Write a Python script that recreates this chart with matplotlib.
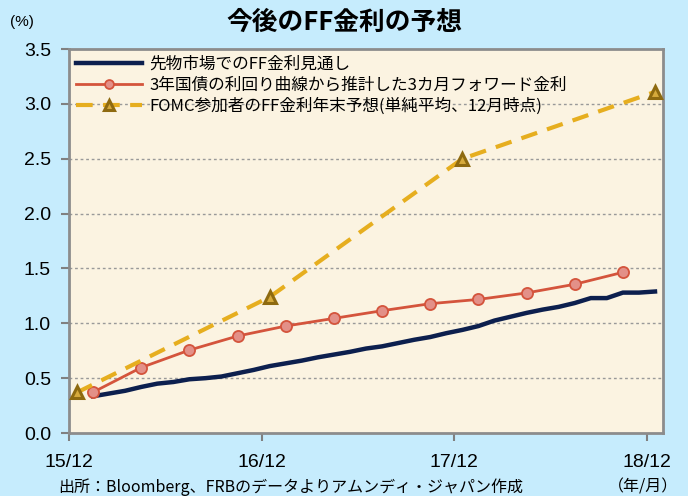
import numpy as np
import matplotlib.pyplot as plt

plt.rcParams['font.family'] = ['Liberation Sans', 'Noto Sans CJK JP', 'DejaVu Sans']

# x positions in months from 15/12
futures_x = np.arange(1.5, 37.0, 1.0)
futures = [0.335, 0.36, 0.385, 0.42, 0.45, 0.465, 0.49, 0.50, 0.515, 0.545,
           0.575, 0.61, 0.635, 0.66, 0.69, 0.715, 0.74, 0.77, 0.79, 0.82,
           0.85, 0.875, 0.91, 0.94, 0.975, 1.025, 1.06, 1.095, 1.125, 1.15,
           1.185, 1.23, 1.23, 1.28, 1.28, 1.29]

forward_x = np.arange(1.5, 35.0, 3.0)
forward = [0.372, 0.597, 0.756, 0.884, 0.975, 1.045, 1.115, 1.179, 1.218,
           1.277, 1.356, 1.465]

fomc_x = [0.5, 12.5, 24.5, 36.5]
fomc = [0.37, 1.24, 2.50, 3.11]

tick_pos = [0, 12, 24, 36]
tick_labels = ['15/12', '16/12', '17/12', '18/12']

labels = ['先物市場でのFF金利見通し',
          '3年国債の利回り曲線から推計した3カ月フォワード金利',
          'FOMC参加者のFF金利年末予想(単純平均、12月時点)']

bg = '#c6ecfd'
fig = plt.figure(figsize=(6.88, 4.96), dpi=100, facecolor=bg)
ax = fig.add_axes([0.1003, 0.127, 0.8634, 0.774])
ax.set_facecolor('#fbf3e1')

ax.plot(futures_x, futures, color='#0c1f4e', lw=3.2, label=labels[0], zorder=3)
ax.plot(forward_x, forward, color='#d4543c', lw=2, marker='o', ms=8,
        mfc='#e39088', mec='#d4543c', mew=1.3, label=labels[1], zorder=4)
ax.plot(fomc_x, fomc, color='#e6ae1f', lw=3, ls=(0, (4, 2.5)), marker='^', ms=9,
        mfc='#d6aa3c', mec='#8e6a10', mew=2.2, label=labels[2], zorder=5)

ax.set_xlim(0, 37)
ax.set_ylim(0, 3.5)
ax.set_yticks(np.arange(0, 3.51, 0.5))
ax.set_yticklabels(['%.1f' % v for v in np.arange(0, 3.51, 0.5)], fontsize=14)
ax.set_xticks(tick_pos)
ax.set_xticklabels(tick_labels, fontsize=14)
ax.tick_params(axis='both', direction='out', length=6, width=1.5, color='#808080')
ax.tick_params(axis='x', pad=9)
ax.tick_params(axis='y', pad=7)
for y in np.arange(0.5, 3.01, 0.5):
    ax.axhline(y, color='#999999', lw=1, ls=(0, (2, 2)), zorder=1)
for s in ax.spines.values():
    s.set_color('#8c8c8c')
    s.set_linewidth(2)

leg = ax.legend(loc='upper left', frameon=False, handlelength=4.0,
                borderaxespad=0.1, borderpad=0.3, labelspacing=0.22,
                handletextpad=0.4, markerscale=0.8,
                prop={'family': ['Noto Sans CJK JP'], 'size': 12})

fig.text(0.5, 0.955, '今後のFF金利の予想', ha='center', va='center', fontsize=18.5,
         fontweight='bold', family=['Noto Sans CJK JP'])
fig.text(0.015, 0.955, '(%)', ha='left', va='center', fontsize=11)
fig.text(0.084, 0.018, '出所：Bloomberg、FRBのデータよりアムンディ・ジャパン作成',
         ha='left', va='center', fontsize=11.5, family=['Noto Sans CJK JP'])
fig.text(0.935, 0.018, '（年/月）', ha='center', va='center', fontsize=11.5,
         family=['Noto Sans CJK JP'])

fig.savefig('out.png', dpi=100, facecolor=bg)
